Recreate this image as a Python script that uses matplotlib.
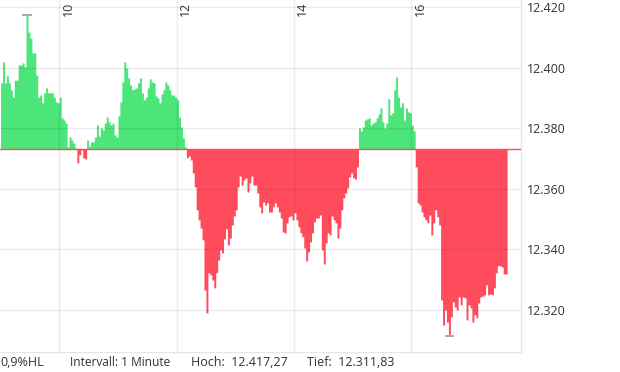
import matplotlib
matplotlib.use('Agg')
import matplotlib.pyplot as plt
import matplotlib.transforms as mtransforms
import numpy as np

plt.rcParams['font.family'] = ['Open Sans', 'DejaVu Sans']

# Vortagesschluss (Basislinie) und Tagesdaten, 2-Minuten-Werte ab 09:00
prev_close = 12373.2
start_hour = 9.0
step_min = 2
values = [
    12395.0, 12401.9, 12395.0, 12397.3, 12395.0, 12392.7, 12390.3, 12395.9, 12395.9, 12400.9,
    12400.9, 12401.6, 12400.3, 12417.27, 12411.8, 12409.8, 12404.9, 12404.9, 12397.6, 12390.3,
    12391.0, 12388.4, 12391.7, 12393.3, 12391.7, 12391.7, 12391.7, 12390.3, 12388.7, 12388.4,
    12390.3, 12383.4, 12382.7, 12381.7, 12373.8, 12377.1, 12376.1, 12375.1, 12373.5, 12368.5,
    12371.2, 12372.8, 12370.2, 12369.8, 12376.1, 12374.1, 12375.5, 12375.5, 12377.1, 12381.1,
    12377.4, 12380.1, 12379.4, 12381.7, 12383.7, 12382.1, 12381.1, 12381.7, 12377.8, 12377.1,
    12384.1, 12388.7, 12395.3, 12401.9, 12399.9, 12396.6, 12394.3, 12392.7, 12393.0, 12393.3,
    12395.0, 12396.6, 12391.7, 12389.4, 12390.3, 12393.3, 12396.3, 12395.3, 12395.0, 12390.7,
    12390.0, 12388.4, 12391.3, 12392.7, 12395.3, 12394.3, 12392.7, 12391.0, 12391.0, 12390.3,
    12389.4, 12383.7, 12380.4, 12376.8, 12373.8, 12370.2, 12370.8, 12369.5, 12365.2, 12360.6,
    12353.0, 12349.7, 12347.0, 12343.1, 12326.5, 12318.9, 12332.2, 12331.5, 12329.8, 12327.2,
    12332.2, 12336.4, 12339.8, 12338.8, 12343.4, 12346.7, 12341.4, 12343.7, 12348.0, 12351.0,
    12353.0, 12360.6, 12364.2, 12361.2, 12362.9, 12363.6, 12358.9, 12361.9, 12364.2, 12361.2,
    12361.2, 12358.6, 12354.0, 12352.0, 12355.6, 12354.6, 12355.3, 12352.3, 12352.3, 12354.0,
    12355.3, 12354.0, 12352.3, 12350.3, 12345.7, 12345.4, 12348.7, 12350.7, 12351.0, 12349.7,
    12352.0, 12349.7, 12347.4, 12345.4, 12344.1, 12340.4, 12336.1, 12339.1, 12342.4, 12345.4,
    12349.0, 12350.3, 12350.3, 12351.3, 12339.8, 12335.1, 12342.1, 12345.4, 12344.7, 12351.0,
    12349.7, 12348.7, 12343.7, 12347.0, 12353.0, 12357.0, 12358.6, 12360.3, 12363.9, 12365.2,
    12363.6, 12363.2, 12367.2, 12380.1, 12379.1, 12380.4, 12382.7, 12383.1, 12383.4, 12381.1,
    12381.7, 12382.1, 12383.4, 12384.7, 12386.7, 12382.1, 12380.1, 12381.7, 12389.7, 12384.4,
    12385.1, 12392.7, 12396.9, 12390.3, 12387.0, 12388.4, 12382.7, 12386.7, 12385.4, 12385.1,
    12381.1, 12379.1, 12367.2, 12355.3, 12354.6, 12352.3, 12350.7, 12349.7, 12348.7, 12351.3,
    12344.7, 12348.7, 12353.0, 12350.7, 12348.0, 12323.2, 12314.9, 12319.9, 12315.9, 12311.83,
    12317.6, 12322.6, 12320.9, 12319.9, 12324.2, 12321.6, 12324.2, 12323.9, 12316.6, 12321.6,
    12320.6, 12315.9, 12318.3, 12317.3, 12322.2, 12324.2, 12324.5, 12324.9, 12328.2, 12324.9,
    12325.2, 12324.9, 12327.2, 12332.2, 12334.5, 12334.5, 12334.1, 12331.8, 12331.8,
]
hour_ticks = [10, 12, 14, 16]
y_ticks = [12320, 12340, 12360, 12380, 12400, 12420]
high = 12417.27
low = 12311.83

green = '#4be57a'
red = '#ff4c5c'
text_c = '#333333'

vals = np.array(values)
times = start_hour + np.arange(len(vals)) * step_min / 60.0
edges = np.append(times, times[-1] + step_min / 60.0)
v_ext = np.append(vals, vals[-1])
above = np.maximum(v_ext, prev_close)
below = np.minimum(v_ext, prev_close)

fig = plt.figure(figsize=(6.2, 3.72), dpi=100)
ax = fig.add_axes([0.0, 1 - 352 / 372, 521 / 620, 352 / 372])

# Stufenflaechen ab Vortagesschluss
ax.fill_between(edges, above, prev_close, step='post', color=green, lw=0, zorder=2)
ax.fill_between(edges, below, prev_close, step='post', color=red, lw=0, zorder=2)
ax.axhline(prev_close, color=red, lw=1.0, zorder=3)

# Hoch / Tief Markierungen
t_high = times[np.argmax(vals)] + 1 / 60
t_low = times[np.argmin(vals)] + 1 / 60
ax.hlines(high + 0.3, t_high - 5 / 60, t_high + 5 / 60, color='#999999', lw=1.2, zorder=4)
ax.hlines(low - 0.5, t_low - 5 / 60, t_low + 5 / 60, color='#999999', lw=1.2, zorder=4)

ax.set_xlim(8.99, 17.87)
ax.set_ylim(12306.0, 12422.4)

ax.set_xticks(hour_ticks)
ax.set_yticks(y_ticks)
ax.grid(True, color='black', alpha=0.08, lw=1.0, zorder=5)
ax.set_axisbelow(False)
ax.tick_params(axis='x', length=0, labelbottom=False)
ax.yaxis.tick_right()
ax.tick_params(axis='y', length=0, pad=4, labelsize=9, labelcolor=text_c)
ax.set_yticklabels([f'{v:,.0f}'.replace(',', '.') for v in y_ticks])

trans = mtransforms.blended_transform_factory(ax.transData, ax.transAxes)
for h in hour_ticks:
    ax.text(h + 0.04, 0.995, str(h), transform=trans, rotation=90, ha='left', va='top',
            fontsize=9, color=text_c)

for side in ['top', 'left']:
    ax.spines[side].set_visible(False)
for side in ['right', 'bottom']:
    ax.spines[side].set_color('#e6e6e6')
    ax.spines[side].set_linewidth(1.0)

# Fusszeile
fy = 1 - 363 / 372
fig.text(0 / 620, fy, '0,9%HL', fontsize=9, color=text_c, va='center')
fig.text(70 / 620, fy, 'Intervall: 1 Minute', fontsize=8.6, color=text_c, va='center')
fig.text(191 / 620, fy, 'Hoch:  12.417,27', fontsize=9, color=text_c, va='center')
fig.text(307 / 620, fy, 'Tief:  12.311,83', fontsize=9, color=text_c, va='center')

fig.savefig('out.png', dpi=100)
